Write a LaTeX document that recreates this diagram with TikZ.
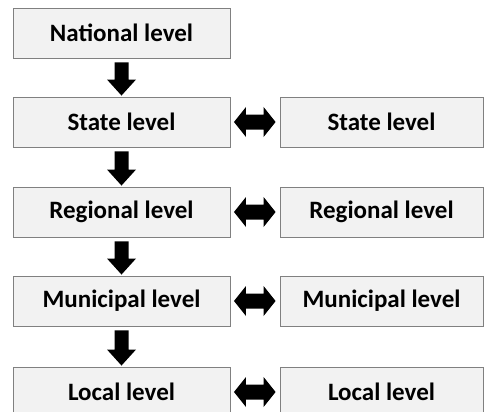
\documentclass[tikz,border=0pt]{standalone}
\usepackage{fontspec}
\setmainfont{Carlito}
\usetikzlibrary{calc}
\begin{document}
\begin{tikzpicture}[x=1pt,y=-1pt,
  lvl/.style={draw=black!50,line width=0.9pt,fill=black!5,minimum height=50pt,inner sep=0pt,font=\bfseries\fontsize{25}{28}\selectfont},
  lbox/.style={lvl,minimum width=217pt},
  rbox/.style={lvl,minimum width=203pt}]
\useasboundingbox (0,0) rectangle (485,412);
\clip (0,0) rectangle (485,412);
\node[lbox] (n) at (121.5,33) {National level};
\node[lbox] (s) at (121.5,122) {State level};
\node[lbox] (r) at (121.5,212) {Regional level};
\node[lbox] (m) at (121.5,301) {Municipal level};
\node[lbox] (l) at (121.5,392) {Local level};
\node[rbox] (s2) at (381.5,122) {State level};
\node[rbox] (r2) at (381.5,212) {Regional level};
\node[rbox] (m2) at (381.5,301) {Municipal level};
\node[rbox] (l2) at (381.5,392) {Local level};
% down arrows
\foreach \a/\b in {n/s,s/r,r/m,m/l}{
  \path (\a.south) ++(0,4) coordinate (top) (\b.north) ++(0,-1) coordinate (tip);
  \fill let \p1=(top), \p2=(tip) in
    (\x1-7,\y1) -- (\x1+7,\y1) -- (\x1+7,\y2+16) -- (\x1+14.5,\y2+16) -- (\x2,\y2)
    -- (\x1-14.5,\y2+16) -- (\x1-7,\y2+16) -- cycle;
}
% double arrows
\foreach \a/\b in {s/s2,r/r2,m/m2,l/l2}{
  \path (\a.east) ++(3.5,0) coordinate (lt);
  \path (\b.west) ++(-4,0) coordinate (rt);
  \fill let \p1=(lt), \p2=(rt) in
    (\x1,\y1) -- (\x1+12,\y1-15) -- (\x1+12,\y1-7.5) -- (\x2-12,\y1-7.5) -- (\x2-12,\y1-15)
    -- (\x2,\y1) -- (\x2-12,\y1+15) -- (\x2-12,\y1+7.5) -- (\x1+12,\y1+7.5) -- (\x1+12,\y1+15) -- cycle;
}
\end{tikzpicture}
\end{document}
